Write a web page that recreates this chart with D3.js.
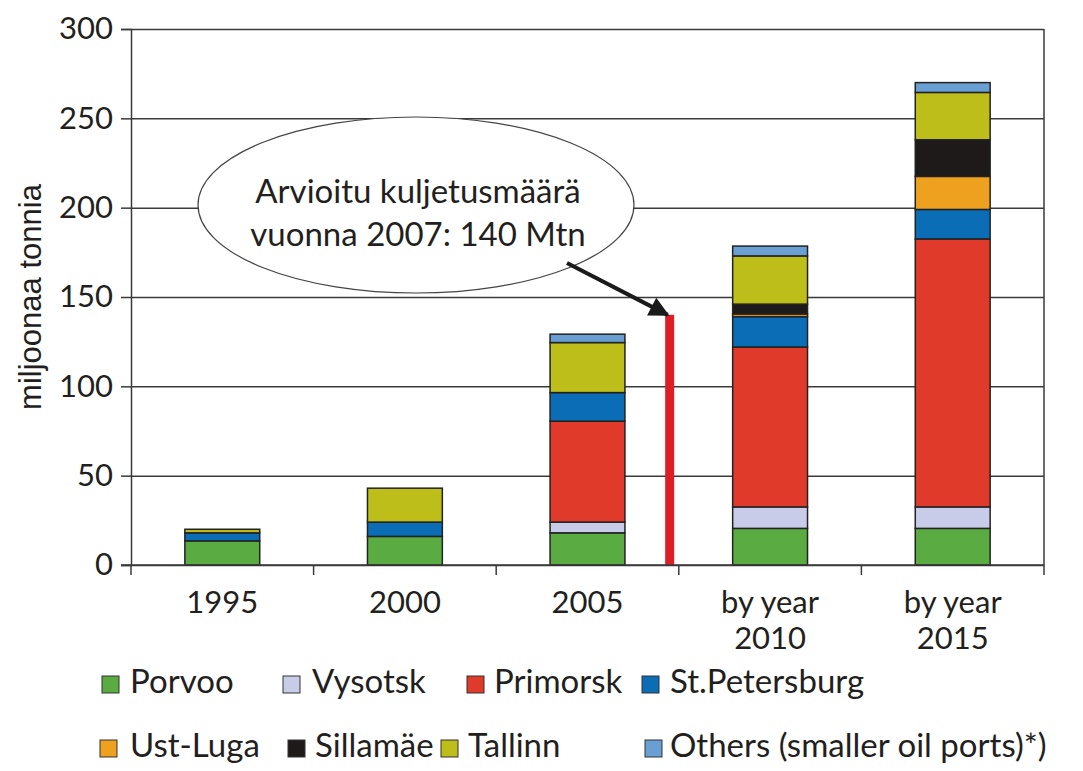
<!DOCTYPE html>
<html>
<head>
<meta charset="utf-8">
<script src="https://cdn.jsdelivr.net/npm/d3@7"></script>
<style>
  body { margin: 0; background: #fff; }
  text { font-family: Lato, "Open Sans", sans-serif; fill: #231f20; }
</style>
</head>
<body>
<div id="my_dataviz"></div>
<script>
// chart data (million tonnes)
let categories = ["1995", "2000", "2005", "by year 2010", "by year 2015"]
let ports = ["Porvoo", "Vysotsk", "Primorsk", "St.Petersburg", "Ust-Luga", "Sillamäe", "Tallinn", "Others (smaller oil ports)*)"]
let porvoo       = [13.5, 16, 18, 20.5, 20.5]
let vysotsk      = [0, 0, 6, 12, 12]
let primorsk     = [0, 0, 56.5, 89.5, 150]
let stPetersburg = [4.5, 8, 16, 17, 16.5]
let ustLuga      = [0, 0, 0, 1.5, 18.5]
let sillamae     = [0, 0, 0, 5.5, 20.5]
let tallinn      = [2, 19, 28, 27, 26.5]
let others       = [0, 0, 4.7, 5.5, 5.5]
let yTicks = [0, 50, 100, 150, 200, 250, 300]
let estimateValue = 140
let estimateText = ["Arvioitu kuljetusmäärä", "vuonna 2007: 140 Mtn"]

let colors = ["#5aab42", "#c9cce8", "#e03a2b", "#0b6db5", "#eea11e", "#1e1a1a", "#bdbe19", "#6a9fd4"]

// dimensions
let width = 1083,
    height = 771
let plotLeft = 131, plotRight = 1044, plotTop = 29, plotBottom = 565

var svg = d3.select("#my_dataviz")
  .append("svg")
    .attr("width", width)
    .attr("height", height)

var x = d3.scaleBand()
  .domain(categories)
  .range([plotLeft, plotRight])
  .paddingInner(0.59)
  .paddingOuter(0.295)

var y = d3.scaleLinear()
  .domain([0, 300])
  .range([plotBottom, plotTop])

// gridlines
svg.append("g")
  .attr("transform", "translate(" + plotLeft + ",0)")
  .call(d3.axisLeft(y).tickValues(yTicks).tickSize(-(plotRight - plotLeft)).tickFormat(""))
  .call(g => g.select(".domain").remove())
  .selectAll("line").attr("stroke", "#3a3a3a").attr("stroke-width", 1.5)

// right border
svg.append("line")
  .attr("x1", plotRight).attr("x2", plotRight)
  .attr("y1", y(300)).attr("y2", y(0))
  .attr("stroke", "#3a3a3a").attr("stroke-width", 1.5)

// stack the series
var rows = categories.map((c, i) => {
  var r = {cat: c}
  r[ports[0]] = porvoo[i]; r[ports[1]] = vysotsk[i]; r[ports[2]] = primorsk[i]
  r[ports[3]] = stPetersburg[i]; r[ports[4]] = ustLuga[i]; r[ports[5]] = sillamae[i]
  r[ports[6]] = tallinn[i]; r[ports[7]] = others[i]
  return r
})
var stacked = d3.stack().keys(ports)(rows)

// callout ellipse, white fill hides the gridlines behind it
var ell = svg.append("g")
ell.append("ellipse")
  .attr("cx", 416).attr("cy", 205)
  .attr("rx", 218).attr("ry", 88)
  .attr("fill", "#fff")
  .attr("stroke", "#444").attr("stroke-width", 1.2)
ell.selectAll("text")
  .data(estimateText)
  .enter().append("text")
    .attr("x", 418)
    .attr("y", (d, i) => 203 + i * 43)
    .attr("text-anchor", "middle")
    .style("font-size", "33px")
    .text(d => d)

svg.append("g")
  .selectAll("g")
  .data(stacked)
  .enter().append("g")
    .attr("fill", (d, i) => colors[i])
  .selectAll("rect")
  .data(d => d.filter(s => s[1] - s[0] > 0))
  .enter().append("rect")
    .attr("x", d => x(d.data.cat))
    .attr("width", x.bandwidth())
    .attr("y", d => y(d[1]))
    .attr("height", d => y(d[0]) - y(d[1]))
    .attr("stroke", "#222")
    .attr("stroke-width", 1.5)

// estimate for 2007: red line between 2005 and 2010
var xEst = x("2005") + x.bandwidth() / 2 + x.step() * 0.45
svg.append("line")
  .attr("x1", xEst).attr("x2", xEst)
  .attr("y1", y(estimateValue)).attr("y2", y(0))
  .attr("stroke", "#dc1f26").attr("stroke-width", 9)

// arrow
svg.append("defs").append("marker")
  .attr("id", "head")
  .attr("viewBox", "0 0 10 10")
  .attr("refX", 9).attr("refY", 5)
  .attr("markerWidth", 5.5).attr("markerHeight", 5)
  .attr("markerUnits", "strokeWidth")
  .attr("orient", "auto")
  .append("path").attr("d", "M0,0 L10,5 L0,10 z").attr("fill", "#1a1a1a")
svg.append("line")
  .attr("x1", 567).attr("y1", 263)
  .attr("x2", xEst - 2).attr("y2", y(estimateValue))
  .attr("stroke", "#1a1a1a").attr("stroke-width", 4)
  .attr("marker-end", "url(#head)")

// y axis
var yAxis = svg.append("g")
  .attr("transform", "translate(" + plotLeft + ",0)")
  .call(d3.axisLeft(y).tickValues(yTicks).tickSize(10).tickPadding(8))
yAxis.select(".domain").attr("stroke", "#3a3a3a").attr("stroke-width", 1.5)
yAxis.selectAll("line").attr("stroke", "#3a3a3a").attr("stroke-width", 1.5)
yAxis.selectAll("text").style("font-size", "31px").attr("fill", "#231f20")
  .style("font-family", "Lato, sans-serif")

// x axis baseline and boundary ticks
svg.append("line")
  .attr("x1", plotLeft - 10).attr("x2", plotRight)
  .attr("y1", plotBottom).attr("y2", plotBottom)
  .attr("stroke", "#3a3a3a").attr("stroke-width", 1.5)
svg.append("g")
  .selectAll("line")
  .data(d3.range(categories.length + 1))
  .enter().append("line")
    .attr("x1", i => plotLeft + i * x.step())
    .attr("x2", i => plotLeft + i * x.step())
    .attr("y1", plotBottom).attr("y2", plotBottom + 10)
    .attr("stroke", "#3a3a3a").attr("stroke-width", 1.5)

// x labels, "by year" on its own line
var xl = svg.append("g")
  .selectAll("text")
  .data(categories)
  .enter().append("text")
    .attr("text-anchor", "middle")
    .style("font-size", "31px")
xl.selectAll("tspan")
  .data(d => d.startsWith("by year") ? ["by year", d.slice(8)] : [d])
  .enter().append("tspan")
    .attr("x", function() { var c = d3.select(this.parentNode).datum(); return x(c) + x.bandwidth() / 2 })
    .attr("y", (d, i) => 613 + i * 36)
    .text(d => d)

// y label
svg.append("text")
  .attr("transform", "translate(41," + ((plotTop + plotBottom) / 2) + ") rotate(-90)")
  .attr("text-anchor", "middle")
  .style("font-family", "'Liberation Sans', Arial, sans-serif")
  .style("font-size", "31px")
  .text("miljoonaa tonnia")

// legend: [square x, text x, baseline]
var legendPos = [[102, 130, 693], [283, 312, 693], [467, 494, 693], [642, 670, 693],
                 [100, 130, 757], [288, 315, 757], [441, 468, 757], [645, 670, 757]]
var lg = svg.append("g")
  .selectAll("g")
  .data(ports)
  .enter().append("g")
lg.append("rect")
  .attr("x", (d, i) => legendPos[i][0])
  .attr("y", (d, i) => legendPos[i][2] - 17)
  .attr("width", 17).attr("height", 17)
  .attr("fill", (d, i) => colors[i])
  .attr("stroke", "#333").attr("stroke-width", 1)
lg.append("text")
  .attr("x", (d, i) => legendPos[i][1])
  .attr("y", (d, i) => legendPos[i][2])
  .style("font-size", "33px")
  .text(d => d)
</script>
</body>
</html>
